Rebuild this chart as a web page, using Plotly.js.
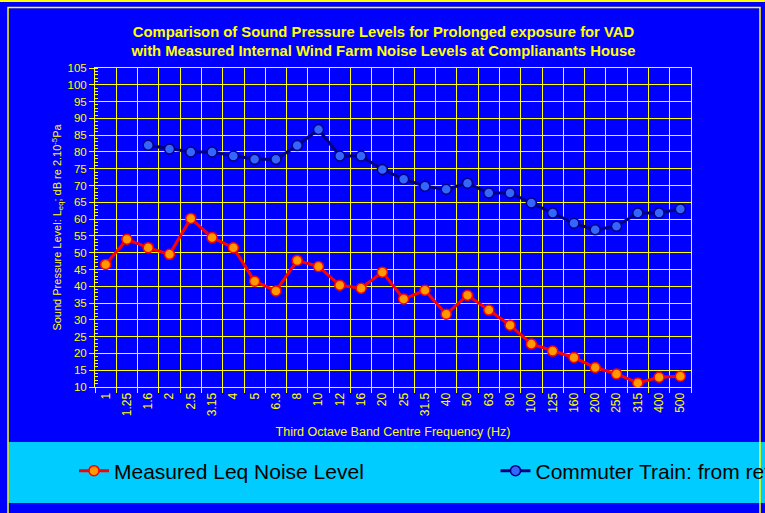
<!DOCTYPE html>
<html>
<head>
<meta charset="utf-8">
<script src="https://cdn.plot.ly/plotly-3.0.1.min.js"></script>
<style>
html, body { margin:0; padding:0; width:765px; height:513px; overflow:hidden; background:#0000FF; }
#chart { width:1300px; height:513px; }
</style>
</head>
<body>
<div id="chart"></div>
<script>
// ---- data ----
var frequencies = ["1","1.25","1.6","2","2.5","3.15","4","5","6.3","8","10","12","16","20","25","31.5","40","50","63","80","100","125","160","200","250","315","400","500"];
var measuredLeq = [46.5, 54, 51.5, 49.5, 60.2, 54.5, 51.5, 41.5, 38.6, 47.7, 45.9, 40.3, 39.4, 44.2, 36.2, 38.8, 31.7, 37.3, 32.9, 28.4, 22.8, 20.7, 18.8, 15.8, 13.9, 11.2, 12.9, 13.2];
var commuterTrain = [null, null, 82, 80.9, 80, 80, 78.8, 77.8, 77.8, 81.9, 86.7, 78.8, 78.8, 74.8, 71.9, 69.8, 68.9, 70.7, 67.8, 67.8, 64.8, 61.8, 58.8, 56.8, 57.9, 61.8, 61.8, 63];
var seriesNames = ["Measured Leq Noise Level", "Commuter Train: from reference data"];
var yTickValues = [10,15,20,25,30,35,40,45,50,55,60,65,70,75,80,85,90,95,100,105];

// ---- geometry (pixels) ----
var W = 1300, H = 513;
var PL = 95, PR = 691, PT = 68, PB = 387;   // visible plot frame
var MR = 50;                                 // right margin of the (wider) paper area
var GW = W - PL - MR;                        // paper width in px
function px(x) { return (x - PL) / GW; }
function py(y) { return (PB - y) / (PB - PT); }

var YEL = "#FFFF00";
var FONT = "Liberation Sans, Arial, sans-serif";

var traces = [
  {
    type: "scatter", mode: "lines+markers", name: seriesNames[0],
    x: frequencies, y: measuredLeq, legendwidth: 376.5,
    line: { color: "#FF0000", width: 3 },
    marker: { color: "#FF9900", size: 10, line: { color: "#FF0000", width: 1.5 } }
  },
  {
    type: "scatter", mode: "lines+markers", name: seriesNames[1],
    x: frequencies, y: commuterTrain, legendwidth: 420,
    line: { color: "#000080", width: 3 },
    marker: { color: "#3366FF", size: 10, line: { color: "#000080", width: 1.5 } }
  }
];

var layout = {
  width: W, height: H,
  paper_bgcolor: "#0000FF", plot_bgcolor: "#0000FF",
  margin: { l: PL, r: MR, t: PT, b: H - PB, pad: 0 },
  font: { family: FONT, color: YEL },
  title: {
    text: "Comparison of Sound Pressure Levels for Prolonged exposure for VAD<br>with Measured Internal Wind Farm Noise Levels at Complianants House",
    font: { family: FONT, size: 14.8, color: YEL, weight: "bold" },
    xref: "paper", x: px(383.5), xanchor: "center",
    yref: "container", y: 1 - 37 / H, yanchor: "middle",
    automargin: false
  },
  xaxis: {
    domain: [0, px(PR)],
    type: "category", categoryorder: "array", categoryarray: frequencies,
    range: [-0.5, frequencies.length - 0.5], autorange: false,
    tickson: "boundaries", ticks: "outside", ticklen: 5, tickcolor: YEL,
    showgrid: true, gridcolor: YEL, gridwidth: 1,
    showline: true, linecolor: YEL, linewidth: 1, mirror: true,
    tickangle: -90, tickfont: { family: FONT, size: 12, color: YEL },
    title: { text: "Third Octave Band Centre Frequency (Hz)", font: { family: FONT, size: 12.5, color: YEL }, standoff: 12 },
    automargin: false, zeroline: false
  },
  yaxis: {
    range: [10, 105], autorange: false, tickvals: yTickValues, ticks: "outside", ticklen: 5, tickcolor: YEL,
    showgrid: true, gridcolor: YEL, gridwidth: 1,
    showline: true, linecolor: YEL, linewidth: 1, mirror: true,
    tickfont: { family: FONT, size: 11.5, color: YEL },
    minor: { dtick: 1, ticks: "inside", ticklen: 3, tickcolor: YEL, showgrid: false },
    title: { text: "Sound Pressure Level: L<sub>eq</sub>; dB re 2.10<sup>-5</sup>Pa", font: { family: FONT, size: 11, color: YEL }, standoff: 3 },
    automargin: false, zeroline: false
  },
  showlegend: true,
  legend: {
    orientation: "h", xref: "paper", yref: "paper",
    x: px(74), xanchor: "left", y: py(471), yanchor: "middle",
    bgcolor: "rgba(0,0,0,0)", borderwidth: 0,
    font: { family: FONT, size: 21, color: "#000000" },
    itemclick: false
  },
  shapes: [
    { type: "rect", xref: "paper", yref: "paper", x0: px(8.5), x1: px(W + 10), y0: py(442), y1: py(503),
      fillcolor: "#00CCFF", line: { width: 0 }, layer: "below" },
    { type: "line", xref: "paper", yref: "paper", x0: px(-10), x1: px(W + 10), y0: py(1), y1: py(1),
      line: { color: YEL, width: 2 }, layer: "below" },
    { type: "rect", xref: "paper", yref: "paper", x0: px(8), x1: px(760), y0: py(7.5), y1: py(H + 20),
      fillcolor: "rgba(0,0,0,0)", line: { color: YEL, width: 1.5 }, layer: "below" }
  ]
};

Plotly.newPlot("chart", traces, layout, { staticPlot: true, displayModeBar: false });
</script>
</body>
</html>
